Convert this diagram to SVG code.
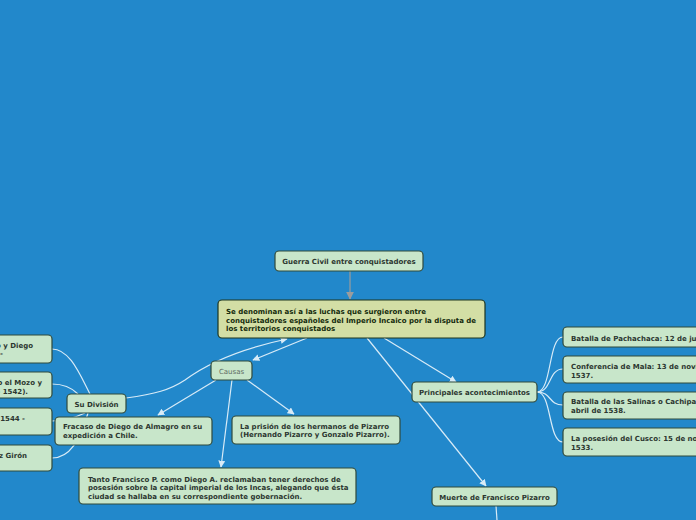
<svg xmlns="http://www.w3.org/2000/svg" width="696" height="520" viewBox="0 0 696 520">
<defs>
<marker id="aw" viewBox="0 0 10 10" refX="9" refY="5" markerWidth="7" markerHeight="7" orient="auto" markerUnits="userSpaceOnUse"><path d="M0,0 L10,5 L0,10 z" fill="#d8ebf7"/></marker>
<marker id="ag" viewBox="0 0 10 10" refX="9" refY="5" markerWidth="8" markerHeight="8" orient="auto" markerUnits="userSpaceOnUse"><path d="M0,0 L10,5 L0,10 z" fill="#9c9c9c"/></marker>
<style>
.n{fill:#c8e6ca;stroke:#2f4a3c;stroke-width:1.2}
.m{fill:#d3dea5;stroke:#1c3520;stroke-width:1.2}
.t{font-family:"DejaVu Sans",Verdana,sans-serif;font-size:7px;font-weight:bold;fill:#2c3630}
.tm{font-family:"DejaVu Sans",Verdana,sans-serif;font-size:7px;font-weight:bold;fill:#142a0c}
.tc{font-family:"DejaVu Sans",Verdana,sans-serif;font-size:7px;fill:#5e6b63}
.c{fill:none;stroke:#d8ebf7;stroke-width:1.2}
.ce{text-anchor:middle}
.re{text-anchor:end}
</style>
</defs>
<rect width="696" height="520" fill="#2288cb"/>
<g id="connectors">
<path d="M350,271 L350,299" fill="none" stroke="#9c9c9c" stroke-width="1.2" marker-end="url(#ag)"/>
<path class="c" d="M126,398 C155,394 170,390 185,380 C205,365 235,350 287,339" marker-end="url(#aw)"/>
<path class="c" d="M307,338 L253,360" marker-end="url(#aw)"/>
<path class="c" d="M216,380 L158,415" marker-end="url(#aw)"/>
<path class="c" d="M247,380 L294,414" marker-end="url(#aw)"/>
<path class="c" d="M232,380 L221,467" marker-end="url(#aw)"/>
<path class="c" d="M384,338 L456,382" marker-end="url(#aw)"/>
<path class="c" d="M367,338 L486,486" marker-end="url(#aw)"/>
<path class="c" d="M496,506 L497,520"/>
<path class="c" d="M537,392 C552,392 548,337 563,337"/>
<path class="c" d="M537,392 C552,392 548,369 563,369"/>
<path class="c" d="M537,392 C552,392 548,405 563,405"/>
<path class="c" d="M537,392 C552,392 548,442 563,442"/>
<path class="c" d="M90,394 C80,375 70,349 52,349"/>
<path class="c" d="M78,394 C70,386 62,384 52,384"/>
<path class="c" d="M85,413 C70,420 60,421 52,421"/>
<path class="c" d="M88,413 C80,440 70,458 52,458"/>
</g>
<g id="n-guerra"><rect class="n" x="275" y="251" width="148" height="20" rx="4"/><text class="t ce" x="349" y="263.5">Guerra Civil entre conquistadores</text></g>
<g id="n-main"><rect class="m" x="218" y="300" width="267" height="38" rx="4"/>
<text class="tm" x="226" y="314">Se denominan así a las luchas que surgieron entre</text>
<text class="tm" x="226" y="322.5">conquistadores españoles del Imperio Incaico por la disputa de</text>
<text class="tm" x="226" y="331">los territorios conquistados</text></g>
<g id="n-causas"><rect class="n" x="211" y="361" width="41" height="19" rx="4"/><text class="tc ce" x="231.5" y="373.5">Causas</text></g>
<g id="n-division"><rect class="n" x="67" y="394" width="59" height="19" rx="4"/><text class="t ce" x="96.5" y="406.5">Su División</text></g>
<g id="n-fracaso"><rect class="n" x="55" y="417" width="157" height="28" rx="4"/>
<text class="t" x="63" y="429">Fracaso de Diego de Almagro en su</text>
<text class="t" x="63" y="438">expedición a Chile.</text></g>
<g id="n-prision"><rect class="n" x="232" y="416" width="168" height="28" rx="4"/>
<text class="t" x="240" y="428.5">La prisión de los hermanos de Pizarro</text>
<text class="t" x="240" y="437">(Hernando Pizarro y Gonzalo Pizarro).</text></g>
<g id="n-tanto"><rect class="n" x="79" y="468" width="277" height="36" rx="4"/>
<text class="t" x="88" y="481.5">Tanto Francisco P. como Diego A. reclamaban tener derechos de</text>
<text class="t" x="88" y="490">posesión sobre la capital imperial de los Incas, alegando que ésta</text>
<text class="t" x="88" y="498.5">ciudad se hallaba en su correspondiente gobernación.</text></g>
<g id="n-principales"><rect class="n" x="412" y="382" width="125" height="20" rx="4"/><text class="t ce" x="474.5" y="395">Principales acontecimientos</text></g>
<g id="n-muerte"><rect class="n" x="432" y="487" width="125" height="19" rx="4"/><text class="t ce" x="494.5" y="499.5">Muerte de Francisco Pizarro</text></g>
<g id="n-r1"><rect class="n" x="563" y="327" width="200" height="20" rx="4"/><text class="t" x="571" y="340.5">Batalla de Pachachaca: 12 de julio de 1537.</text></g>
<g id="n-r2"><rect class="n" x="563" y="356" width="200" height="27" rx="4"/>
<text class="t" x="571" y="368.5">Conferencia de Mala: 13 de noviembre de</text>
<text class="t" x="571" y="377.5">1537.</text></g>
<g id="n-r3"><rect class="n" x="563" y="392" width="200" height="27" rx="4"/>
<text class="t" x="571" y="404">Batalla de las Salinas o Cachipampa: 6 de</text>
<text class="t" x="571" y="413">abril de 1538.</text></g>
<g id="n-r4"><rect class="n" x="563" y="428" width="200" height="28" rx="4"/>
<text class="t" x="571" y="440.5">La posesión del Cusco: 15 de noviembre de</text>
<text class="t" x="571" y="449.5">1533.</text></g>
<g id="n-l1"><rect class="n" x="-120" y="335" width="172" height="28" rx="4"/>
<text class="t re" x="33" y="347.5">Entre Francisco Pizarro y Diego</text>
<text class="t re" x="3" y="356">de Almagro -</text></g>
<g id="n-l2"><rect class="n" x="-120" y="372" width="172" height="26" rx="4"/>
<text class="t re" x="42" y="385">Entre Diego de Almagro el Mozo y</text>
<text class="t re" x="28" y="393.5">Vaca de Castro (1541 - 1542).</text></g>
<g id="n-l3"><rect class="n" x="-120" y="408" width="172" height="27" rx="4"/>
<text class="t re" x="25" y="420.5">Rebelión de Gonzalo Pizarro (1544 -</text></g>
<g id="n-l4"><rect class="n" x="-120" y="445" width="172" height="26" rx="4"/>
<text class="t re" x="27" y="457.5">Rebelión de Francisco Hernández Girón</text></g>
</svg>
